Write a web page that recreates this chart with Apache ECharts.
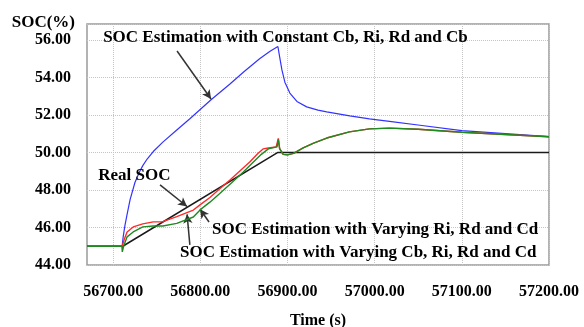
<!DOCTYPE html>
<html>
<head>
<meta charset="utf-8">
<script src="https://cdn.jsdelivr.net/npm/echarts@6/dist/echarts.min.js"></script>
<style>
  html, body { margin: 0; padding: 0; background: #fff; }
  #chart { width: 584px; height: 327px; }
</style>
</head>
<body>
<div id="chart"></div>
<script>
// Time axis ticks (s) and SOC axis range (%)
const timeTicks = [56700, 56800, 56900, 57000, 57100, 57200];
const timeRange = [56670, 57200];
const socRange = [44, 56.85];

// Real SOC: flat, linear charge, flat
const realSoc = [
  [56670, 45.0], [56711, 45.0], [56889, 50.0], [57200, 50.0]
];

// SOC estimation with constant Cb, Ri, Rd and Cb
const constEst = [
  [56670, 45.0], [56710.3, 45.0], [56711.5, 45.5], [56713.5, 46.1], [56716, 46.7],
  [56719.5, 47.5], [56725, 48.4], [56730, 48.95], [56734, 49.3], [56739, 49.65],
  [56746, 50.05], [56757, 50.55], [56773, 51.2], [56788, 51.8], [56812, 52.8],
  [56834, 53.65], [56850, 54.3], [56868, 55.0], [56880, 55.4], [56889, 55.65],
  [56891, 55.1], [56893.6, 54.4], [56897, 53.75], [56902.7, 53.17], [56910.8, 52.72],
  [56922, 52.43], [56935, 52.26], [56945, 52.16], [56971.5, 51.95], [56994, 51.79],
  [57017, 51.66], [57052, 51.45], [57100, 51.16], [57150, 51.0], [57200, 50.84]
];

// SOC estimation with varying Ri, Rd and Cd
const varyRiRdCd = [
  [56670, 45.0], [56710.3, 45.0], [56711, 44.95], [56713, 45.4], [56716, 45.76],
  [56723, 46.03], [56734, 46.19], [56746, 46.3], [56757, 46.31], [56773, 46.58],
  [56792, 46.93], [56800, 47.22], [56811, 47.6], [56822, 48.05], [56834, 48.53],
  [56845, 49.0], [56857, 49.5], [56866, 49.95], [56872, 50.19], [56878, 50.24],
  [56887, 50.3], [56889.5, 50.75], [56891, 50.2], [56895, 49.9], [56900, 49.87],
  [56907, 49.95], [56918, 50.24], [56930, 50.5], [56945, 50.77], [56971, 51.1],
  [56994, 51.26], [57017, 51.3], [57050, 51.24], [57100, 51.08], [57150, 50.96],
  [57200, 50.84]
];

// SOC estimation with varying Cb, Ri, Rd and Cd
const varyCbRiRdCd = [
  [56670, 45.0], [56710, 45.0], [56710.5, 44.7], [56712, 45.0], [56716, 45.5],
  [56723, 45.76], [56734, 46.03], [56746, 46.08], [56757, 46.08], [56773, 46.22],
  [56792, 46.56], [56800, 46.95], [56811, 47.35], [56822, 47.8], [56835, 48.35],
  [56849, 48.95], [56860, 49.45], [56870, 49.9], [56878, 50.19], [56883, 50.25],
  [56888, 50.3], [56889.5, 50.7], [56891, 50.2], [56895, 49.9], [56900, 49.87],
  [56907, 49.95], [56918, 50.24], [56930, 50.5], [56945, 50.77], [56971, 51.1],
  [56994, 51.26], [57017, 51.3], [57050, 51.24], [57100, 51.08], [57150, 50.96],
  [57200, 50.84]
];

// Annotation texts, anchored at their left-middle point [time, soc]
const noteTexts = [
  'SOC Estimation with Constant Cb, Ri, Rd and Cb',
  'Real SOC',
  'SOC Estimation with Varying Ri, Rd and Cd',
  'SOC Estimation with Varying Cb, Ri, Rd and Cd'
];
const noteAnchors = [
  [56688.5, 56.12], [56682.8, 48.75], [56813.4, 45.9], [56776.7, 44.64]
];
// Pointer arrows: [from, to] in [time, soc]
const arrows = [
  [[56773.3, 55.41], [56812.3, 52.85]],
  [[56753.8, 48.27], [56784.8, 47.12]],
  [[56810, 46.29], [56799.7, 46.97]],
  [[56788, 45.07], [56784.8, 46.7]]
];

const serif = '"Liberation Serif", "Times New Roman", serif';

const chart = echarts.init(document.getElementById('chart'), null, { renderer: 'canvas' });

function lineSeries(name, data, color, width, z) {
  return {
    name, type: 'line', data, showSymbol: false, symbol: 'none',
    smooth: false, z,
    lineStyle: { color, width },
    emphasis: { disabled: true },
    animation: false
  };
}

chart.setOption({
  backgroundColor: '#ffffff',
  animation: false,
  grid: {
    left: 87, right: 35, top: 24, bottom: 62,
    outerBoundsMode: 'none', containLabel: false,
    show: true, borderColor: '#9a9a9a', borderWidth: 1.5, backgroundColor: '#ffffff'
  },
  xAxis: {
    type: 'value',
    min: timeRange[0], max: timeRange[1],
    name: 'Time (s)', nameLocation: 'middle', nameGap: 48,
    nameTextStyle: { fontFamily: serif, fontWeight: 'bold', fontSize: 16, color: '#000' },
    axisLine: { show: false },
    axisTick: { show: false, customValues: timeTicks },
    axisLabel: {
      customValues: timeTicks, margin: 19,
      fontFamily: serif, fontWeight: 'bold', fontSize: 16, color: '#000',
      formatter: v => v.toFixed(2)
    },
    splitLine: { show: true, lineStyle: { color: '#c4c4c4', type: 'dotted', width: 1 } }
  },
  yAxis: {
    type: 'value',
    min: socRange[0], max: socRange[1], interval: 2,
    name: 'SOC(%)', nameLocation: 'end', nameGap: 1,
    nameTextStyle: {
      fontFamily: serif, fontWeight: 'bold', fontSize: 17, color: '#000',
      align: 'right', verticalAlign: 'middle', padding: [0, 12, 0, 0]
    },
    axisLine: { show: false },
    axisTick: { show: false },
    axisLabel: {
      margin: 16, padding: [5, 0, 0, 0],
      fontFamily: serif, fontWeight: 'bold', fontSize: 16, color: '#000',
      formatter: v => (Math.abs(v % 2) < 1e-9 ? v.toFixed(2) : '')
    },
    splitLine: { show: true, lineStyle: { color: '#c4c4c4', type: 'dotted', width: 1 } }
  },
  series: [
    lineSeries('Real SOC', realSoc, '#1a1a1a', 1.5, 2),
    lineSeries('Constant', constEst, '#3333ff', 1.2, 3),
    lineSeries('Varying Ri Rd Cd', varyRiRdCd, '#ff2a2a', 1.4, 4),
    lineSeries('Varying Cb Ri Rd Cd', varyCbRiRdCd, '#1f8a1f', 1.4, 5),
    {
      name: 'notes', type: 'scatter', z: 10, symbolSize: 0, silent: true,
      emphasis: { disabled: true },
      data: noteAnchors.map((p, i) => ({ value: p, name: noteTexts[i] })),
      label: {
        show: true, position: 'right', distance: 0, opacity: 1,
        formatter: p => p.name,
        fontFamily: serif, fontWeight: 'bold', fontSize: 17, color: '#000',
        textBorderWidth: 0
      },
      markLine: {
        silent: true, symbol: ['none', 'arrow'], symbolSize: [7, 9],
        label: { show: false },
        emphasis: { disabled: true },
        lineStyle: { color: '#333', width: 1.5, type: 'solid', opacity: 1 },
        data: arrows.map(a => [{ coord: a[0] }, { coord: a[1] }])
      }
    }
  ]
});
</script>
</body>
</html>
